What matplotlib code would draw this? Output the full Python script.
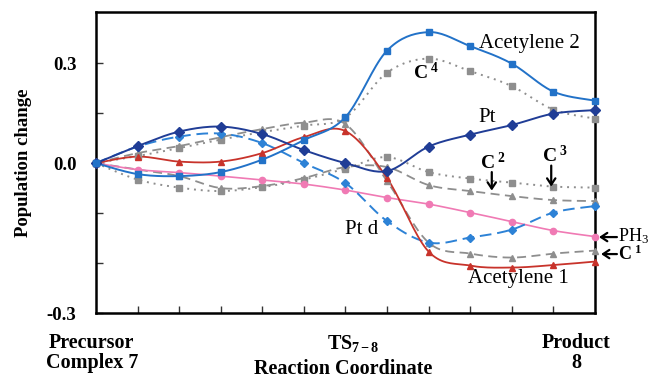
import numpy as np
import matplotlib
matplotlib.use("Agg")
import matplotlib.pyplot as plt

plt.rcParams['font.family'] = ['Liberation Serif', 'DejaVu Serif']
plt.rcParams['mathtext.fontset'] = 'custom'
plt.rcParams['mathtext.rm'] = 'Liberation Serif'
plt.rcParams['mathtext.it'] = 'Liberation Serif:italic'
plt.rcParams['mathtext.bf'] = 'Liberation Serif:bold'

steps = np.arange(13)

acetylene2 = [0, -0.022, -0.026, -0.018, 0.007, 0.046, 0.092, 0.225, 0.262, 0.234, 0.199, 0.143, 0.125]
pt = [0, 0.034, 0.063, 0.073, 0.058, 0.026, 0.0, -0.016, 0.033, 0.057, 0.076, 0.099, 0.106]
pt_d = [0, 0.033, 0.053, 0.059, 0.040, 0.0, -0.040, -0.116, -0.159, -0.149, -0.133, -0.099, -0.086]
acetylene1 = [0, 0.013, 0.003, 0.003, 0.020, 0.052, 0.064, -0.030, -0.177, -0.205, -0.209, -0.204, -0.197]
ph3 = [0, -0.013, -0.019, -0.026, -0.034, -0.042, -0.054, -0.069, -0.082, -0.099, -0.117, -0.135, -0.147]
c4 = [0, 0.014, 0.030, 0.047, 0.062, 0.075, 0.091, 0.181, 0.209, 0.184, 0.154, 0.107, 0.089]
c3 = [0, -0.033, -0.049, -0.056, -0.048, -0.033, -0.011, 0.012, -0.018, -0.031, -0.039, -0.047, -0.049]
c2 = [0, -0.013, -0.026, -0.050, -0.046, -0.030, -0.008, -0.008, -0.044, -0.056, -0.066, -0.074, -0.076]
c1 = [0, 0.020, 0.034, 0.052, 0.068, 0.081, 0.078, -0.036, -0.159, -0.181, -0.189, -0.181, -0.175]

ytick_values = [-0.3, -0.2, -0.1, 0.0, 0.1, 0.2]
ytick_labels = ['-0.3', '', '', '0.0', '', '0.3']


def smooth(x, y, n=20):
    x = np.asarray(x, float)
    y = np.asarray(y, float)
    P = np.column_stack([x, y])
    P = np.vstack([P[0], P, P[-1]])
    out = []
    t = np.linspace(0, 1, n)[:, None]
    for i in range(1, len(P) - 2):
        p0, p1, p2, p3 = P[i - 1], P[i], P[i + 1], P[i + 2]
        c1_ = p1 + (p2 - p0) / 6.0
        c2_ = p2 - (p3 - p1) / 6.0
        seg = ((1 - t) ** 3) * p1 + 3 * ((1 - t) ** 2) * t * c1_ + 3 * (1 - t) * t ** 2 * c2_ + t ** 3 * p2
        out.append(seg if i == 1 else seg[1:])
    out = np.vstack(out)
    return out[:, 0], out[:, 1]


fig = plt.figure(figsize=(6.53, 3.79), dpi=100)
ax = fig.add_axes([0.147, 0.174, 0.764, 0.794])

grey = '#8e8e8e'
series = [
    (c1, grey, (0, (5, 3)), '^', 5, 1.3),
    (c2, grey, (0, (5, 3)), '^', 5, 1.3),
    (c3, grey, (0, (1, 2.5)), 's', 4.5, 1.4),
    (c4, grey, (0, (1, 2.5)), 's', 4.5, 1.4),
    (ph3, '#f07ab4', '-', 'o', 4.5, 1.2),
    (pt_d, '#2d82d6', (0, (6, 3)), 'D', 3.8, 1.4),
    (acetylene1, '#c8332b', '-', '^', 5, 1.3),
    (pt, '#203d96', '-', 'D', 5, 1.4),
    (acetylene2, '#2272c8', '-', 's', 4.5, 1.4),
]
for vals, col, ls, mk, ms, lw in series:
    xs, ys = smooth(steps, vals)
    ax.plot(xs, ys, color=col, linestyle=ls, lw=lw, clip_on=False, zorder=2)
    ax.plot(steps, vals, linestyle='none', marker=mk, ms=ms, color=col,
            markeredgecolor=col, clip_on=False, zorder=3)

ax.set_xlim(0, 12)
ax.set_ylim(-0.3, 0.302)
ax.set_xticks(steps[1:-1])
ax.set_xticklabels([])
ax.set_yticks(ytick_values)
ax.set_yticklabels(ytick_labels, fontsize=13.5, fontweight='bold')
ax.tick_params(axis='both', direction='in', length=5, width=1, colors='#333333')
ax.tick_params(axis='y', pad=14, labelcolor='black')
for sp in ax.spines.values():
    sp.set_linewidth(1.8)
    sp.set_color('black')

ax.set_ylabel('Population change', fontsize=13.5, fontweight='bold', labelpad=11)

# x-axis labels
ax.text(-0.1, -0.34, 'Precursor\nComplex 7', ha='center', va='top', fontsize=14.5,
        fontweight='bold', linespacing=1.0)
ax.text(6.2, -0.34, r'$\mathbf{TS_{7-8}}$', ha='center', va='top', fontsize=14.5)
ax.text(11.55, -0.34, 'Product\n8', ha='center', va='top', fontsize=14.5,
        fontweight='bold', linespacing=1.0, multialignment='center')
ax.text(5.95, -0.392, 'Reaction Coordinate', ha='center', va='top', fontsize=14.5,
        fontweight='bold')

# curve labels
ax.text(10.43, 0.24, 'Acetylene 2', ha='center', va='center', fontsize=15)
ax.text(7.95, 0.182, r'$\mathbf{C}^{\ \mathbf{4}}$', ha='center', va='center', fontsize=14)
ax.text(9.4, 0.092, 'Pt', ha='center', va='center', fontsize=15)
ax.text(9.55, 0.002, r'$\mathbf{C}^{\ \mathbf{2}}$', ha='center', va='center', fontsize=14)
ax.text(11.05, 0.016, r'$\mathbf{C}^{\ \mathbf{3}}$', ha='center', va='center', fontsize=14)
ax.text(6.4, -0.132, 'Pt d', ha='center', va='center', fontsize=15)
ax.text(10.15, -0.23, 'Acetylene 1', ha='center', va='center', fontsize=15)
ax.text(12.56, -0.146, r'PH$_3$', ha='left', va='center', fontsize=13, clip_on=False)
ax.text(12.56, -0.183, r'$\mathbf{C}^{\ \mathbf{1}}$', ha='left', va='center', fontsize=13, clip_on=False)

arrow = dict(arrowstyle='->,head_length=0.45,head_width=0.3', lw=1.6, color='black',
             shrinkA=0, shrinkB=0)
ax.annotate('', xy=(9.52, -0.055), xytext=(9.52, -0.018), arrowprops=arrow, annotation_clip=False)
ax.annotate('', xy=(10.95, -0.047), xytext=(10.95, -0.005), arrowprops=arrow, annotation_clip=False)
ax.annotate('', xy=(12.1, -0.148), xytext=(12.53, -0.148), arrowprops=arrow, annotation_clip=False)
ax.annotate('', xy=(12.15, -0.182), xytext=(12.53, -0.182), arrowprops=arrow, annotation_clip=False)

fig.savefig('out.png', dpi=100)
